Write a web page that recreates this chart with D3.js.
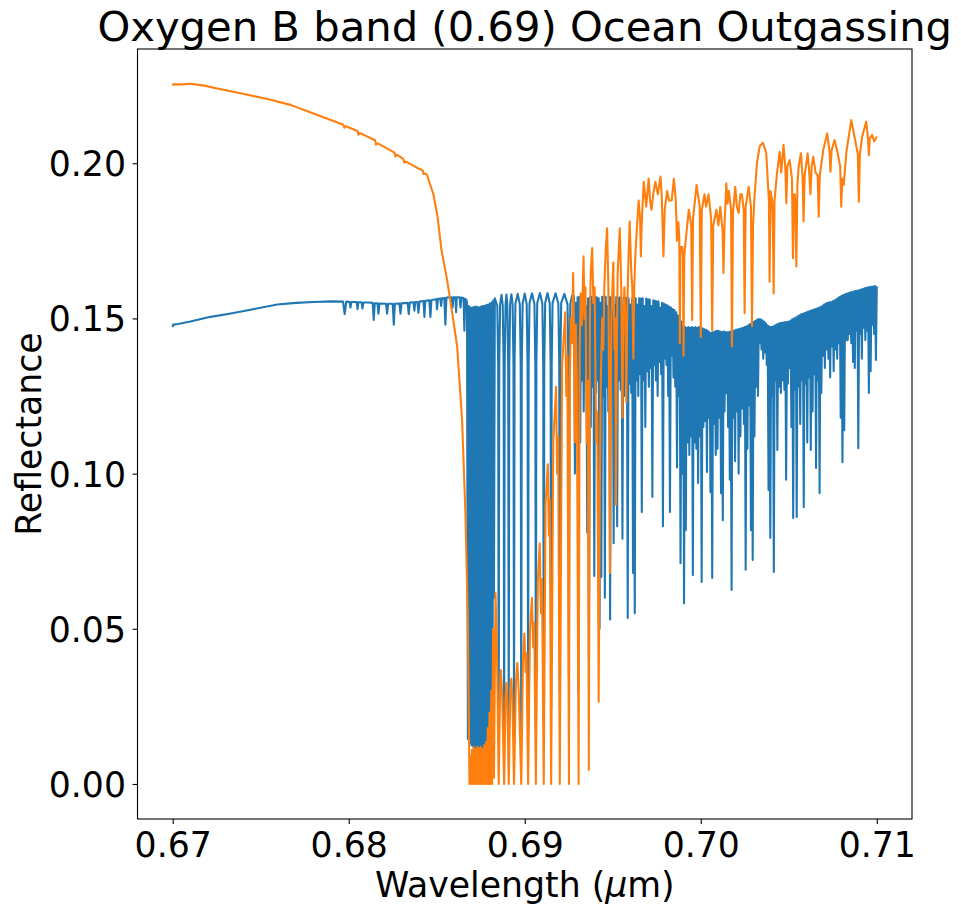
<!DOCTYPE html>
<html><head><meta charset="utf-8">
<script src="https://cdn.jsdelivr.net/npm/d3@7"></script>
<style>body{margin:0;background:#fff}text{font-family:"DejaVu Sans",sans-serif;fill:#000}</style>
</head><body><svg id="chart" width="961" height="916"></svg>
<script>
// ---------- DATA (wavelength in µm, reflectance) ----------
const titleText = "Oxygen B band (0.69) Ocean Outgassing";
const xTicks = [0.67, 0.68, 0.69, 0.70, 0.71];
const yTicks = [0.00, 0.05, 0.10, 0.15, 0.20];
const xLimits = [0.668, 0.712];
const yLimits = [-0.01128, 0.2368];

// Blue series
const blueContinuum = [[0.67000,.1472],[0.67003,.1480],[0.67030,.1482],[0.67100,.1490],[0.67215,.1505],[0.67330,.1516],[0.67442,.1528],[0.67595,.1545],[0.67700,.1550],[0.67800,.1553],[0.67900,.1555],[0.67968,.1554],[0.67977,.1514],[0.67986,.1554],[0.68005,.1553],[0.68010,.1535],[0.68015,.1553],[0.68045,.1553],[0.68050,.1530],[0.68055,.1552],[0.68073,.1552],[0.68078,.1532],[0.68083,.1551],[0.68110,.1551],[0.68136,.1550],[0.68142,.1495],[0.68148,.1549],[0.68163,.1549],[0.68169,.1515],[0.68175,.1548],[0.68212,.1547],[0.68218,.1515],[0.68224,.1547],[0.68250,.1547],[0.68256,.1480],[0.68262,.1547],[0.68288,.1548],[0.68294,.1515],[0.68300,.1549],[0.68335,.1550],[0.68341,.1514],[0.68347,.1551],[0.68368,.1552],[0.68373,.1525],[0.68378,.1553],[0.68390,.1553],[0.68396,.1518],[0.68402,.1554],[0.68425,.1556],[0.68430,.1505],[0.68435,.1557],[0.68458,.1558],[0.68464,.1505],[0.68470,.1559],[0.68497,.1562],[0.68502,.1530],[0.68507,.1563],[0.68520,.1564],[0.68525,.1540],[0.68530,.1565],[0.68543,.1566],[0.68549,.1480],[0.68555,.1567],[0.68585,.1568],[0.68590,.1535],[0.68595,.1568],[0.68606,.1568],[0.68610,.1520],[0.68614,.1568],[0.68630,.1568],[0.68635,.1535],[0.68640,.1567],[0.68652,.1566],[0.68657,.1460],[0.68662,.1563],[0.68668,.1560]];
const blueBandCore = [[0.68672,.1552],[0.68677,.0145],[0.68682,.1540],[0.68687,.0132],[0.68692,.1535],[0.68697,.0125],[0.68702,.1535],[0.68707,.0120],[0.68712,.1537],[0.68717,.0117],[0.68722,.1538],[0.68727,.0115],[0.68732,.1537],[0.68737,.0115],[0.68742,.1536],[0.68747,.0116],[0.68752,.1538],[0.68757,.0116],[0.68762,.1540],[0.68767,.0118],[0.68772,.1541],[0.68777,.0124],[0.68782,.1543],[0.68787,.0140],[0.68792,.1545],[0.68797,.0170],[0.68802,.1548],[0.68807,.0210],[0.68812,.1552],[0.68817,.0300],[0.68822,.1558],[0.68825,.0600],[0.68830,.1565]];
const blueBranchLines = [
[0.68844,.1540],[0.68849,.1350],[0.68852,.0140],[0.68855,.1350],[0.68860,.1545],[0.68868,.1576],
[0.68875,.1542],[0.68880,.1350],[0.68883,.0140],[0.68886,.1350],[0.68891,.1546],[0.68896,.1577],
[0.68901,.1543],[0.68906,.1350],[0.68909,.0140],[0.68912,.1350],[0.68917,.1547],[0.68924,.1578],
[0.68931,.1544],[0.68936,.1350],[0.68939,.0145],[0.68942,.1350],[0.68947,.1548],[0.68960,.1579],
[0.68972,.1545],[0.68977,.1350],[0.68980,.0150],[0.68983,.1350],[0.68988,.1548],[0.69000,.1580],
[0.69011,.1546],[0.69016,.1350],[0.69019,.0160],[0.69022,.1350],[0.69027,.1549],[0.69041,.1581],
[0.69055,.1547],[0.69060,.1350],[0.69063,.0180],[0.69066,.1350],[0.69071,.1550],[0.69086,.1582],
[0.69100,.1548],[0.69105,.1350],[0.69108,.0200],[0.69111,.1350],[0.69116,.1550],[0.69129,.1582],
[0.69142,.1548],[0.69147,.1350],[0.69150,.0250],[0.69153,.1350],[0.69158,.1550],[0.69175,.1581],
[0.69191,.1547],[0.69196,.1350],[0.69199,.0300],[0.69202,.1350],[0.69207,.1549],[0.69225,.1579],
[0.69243,.1546],[0.69248,.1350],[0.69251,.0350],[0.69254,.1350],[0.69259,.1548],[0.69270,.1575]];
const blueRedWing = [
[0.69280,.1572],[0.69285,.1000],[0.69290,.1550],[0.69295,.1280],[0.69300,.1568],[0.69305,.0300],[0.69310,.1570],[0.69315,.1100],[0.69320,.1545],[0.69325,.1300],
[0.69330,.1570],[0.69335,.1200],[0.69340,.1568],[0.69345,.1320],[0.69350,.1540],[0.69355,.0810],[0.69360,.1565],[0.69365,.0400],[0.69370,.1568],[0.69375,.1150],
[0.69380,.1570],[0.69385,.1280],[0.69390,.1548],[0.69395,.0670],[0.69400,.1570],[0.69405,.1260],[0.69410,.1568],[0.69415,.1300],[0.69420,.1565],[0.69425,.0500],
[0.69430,.1550],[0.69435,.0667],[0.69440,.1570],[0.69445,.1250],[0.69450,.1568],[0.69455,.0600],[0.69460,.1570],[0.69465,.1280],[0.69470,.1540],[0.69475,.1200],
[0.69480,.1570],[0.69485,.0530],[0.69490,.1568],[0.69495,.1300],[0.69500,.1570],[0.69505,.0776],[0.69510,.1545],[0.69515,.1240],[0.69520,.1569],[0.69525,.0830],
[0.69530,.1566],[0.69535,.1300],[0.69540,.1568],[0.69545,.1270],[0.69550,.1566],[0.69555,.0790],[0.69560,.1540],[0.69565,.1250],[0.69570,.1565],[0.69575,.1310],
[0.69580,.1566],[0.69585,.0535],[0.69590,.1565],[0.69595,.1290],[0.69600,.1545],[0.69605,.1260],[0.69610,.1564],[0.69615,.0680],[0.69620,.1565],[0.69625,.0550],
[0.69630,.1565],[0.69635,.1300],[0.69640,.1545],[0.69645,.1250],[0.69650,.1565],[0.69655,.1320],[0.69660,.1564],[0.69665,.0876],[0.69670,.1565],[0.69675,.1300],
[0.69680,.1540],[0.69685,.1150],[0.69690,.1564],[0.69695,.1330],[0.69700,.1562],[0.69705,.1280],[0.69710,.1561],[0.69715,.1340],[0.69720,.1540],[0.69725,.0925],
[0.69730,.1558],[0.69735,.1350],[0.69740,.1557],[0.69745,.1300],[0.69750,.1555],[0.69755,.1250],[0.69760,.1554],[0.69765,.1360],[0.69770,.1535],[0.69775,.1320],
[0.69780,.1550],[0.69785,.0830],[0.69790,.1548],[0.69795,.1370],[0.69800,.1545],[0.69805,.1350],[0.69810,.1542],[0.69815,.1250],[0.69820,.1538],[0.69825,.0876],
[0.69830,.1535],[0.69835,.1380],[0.69840,.1530],[0.69845,.1310],[0.69850,.1527],[0.69855,.1280],[0.69860,.1520],[0.69865,.1020],[0.69870,.1510],[0.69875,.1250],
[0.69880,.1500],[0.69885,.0711],[0.69890,.1490],[0.69895,.1000],[0.69900,.1475],[0.69905,.0582],[0.69910,.1472],[0.69915,.0818],[0.69920,.1470],[0.69925,.1100],
[0.69930,.1472],[0.69935,.1060],[0.69940,.1470],[0.69945,.1120],[0.69950,.1472],[0.69955,.0673],[0.69960,.1470],[0.69965,.1100],[0.69970,.1472],[0.69975,.1080],
[0.69980,.1470],[0.69985,.0970],[0.69990,.1472],[0.69995,.1120],[0.70000,.1470],[0.70005,.0651],[0.70010,.1468],[0.70015,.1150],[0.70020,.1465],[0.70025,.1170],
[0.70030,.1463],[0.70035,.1005],[0.70040,.1460],[0.70045,.1180],[0.70050,.1455],[0.70055,.0940],[0.70060,.1453],[0.70065,.0664],[0.70070,.1455],[0.70075,.1160],
[0.70080,.1458],[0.70085,.1060],[0.70090,.1460],[0.70095,.1080],[0.70100,.1460],[0.70105,.1180],[0.70110,.1458],[0.70115,.0937],[0.70120,.1456],[0.70125,.0850],
[0.70130,.1458],[0.70135,.1200],[0.70140,.1456],[0.70145,.1260],[0.70150,.1455],[0.70155,.1150],[0.70160,.1456],[0.70165,.0980],[0.70170,.1458],[0.70175,.0625],
[0.70180,.1460],[0.70185,.1180],[0.70190,.1461],[0.70195,.1040],[0.70200,.1463],[0.70205,.1200],[0.70210,.1465],[0.70215,.1000],[0.70220,.1466],[0.70225,.1120],
[0.70230,.1468],[0.70235,.1210],[0.70240,.1470],[0.70245,.1160],[0.70250,.1472],[0.70255,.0690],[0.70260,.1475],[0.70265,.1080],[0.70270,.1478],[0.70275,.1220],
[0.70280,.1482],[0.70285,.0818],[0.70290,.1485],[0.70295,.0722],[0.70300,.1488],[0.70305,.1120],[0.70310,.1492],[0.70315,.1280],[0.70320,.1496],[0.70325,.1250],
[0.70330,.1498],[0.70335,.1420],[0.70340,.1497],[0.70345,.1400],[0.70350,.1494],[0.70355,.1370],[0.70360,.1490],[0.70365,.1390],[0.70370,.1484],[0.70375,.1350],
[0.70380,.1478],[0.70385,.0947],[0.70390,.1474],[0.70395,.0793],[0.70400,.1472],[0.70405,.1250],[0.70410,.1474],[0.70415,.0683],[0.70420,.1477],[0.70425,.1300],
[0.70430,.1480],[0.70435,.1076],[0.70440,.1483],[0.70445,.1280],[0.70450,.1485],[0.70455,.1260],[0.70460,.1486],[0.70465,.1300],[0.70470,.1487],[0.70475,.1270],
[0.70480,.1488],[0.70485,.0980],[0.70490,.1488],[0.70495,.1290],[0.70500,.1490],[0.70505,.1340],[0.70510,.1493],[0.70515,.1150],[0.70520,.1497],[0.70525,.0857],
[0.70530,.1500],[0.70535,.1270],[0.70540,.1503],[0.70545,.0860],[0.70550,.1507],[0.70555,.1280],[0.70560,.1510],[0.70565,.1160],[0.70570,.1513],[0.70575,.1300],
[0.70580,.1515],[0.70585,.0892],[0.70590,.1517],[0.70595,.1290],[0.70600,.1520],[0.70605,.1100],[0.70610,.1522],[0.70615,.1310],[0.70620,.1524],[0.70625,.1076],
[0.70630,.1526],[0.70635,.1200],[0.70640,.1528],[0.70645,.1320],[0.70650,.1530],[0.70655,.1018],[0.70660,.1532],[0.70665,.1300],[0.70670,.1534],[0.70675,.0937],
[0.70680,.1537],[0.70685,.1260],[0.70690,.1540],[0.70695,.1380],[0.70700,.1545],[0.70705,.1340],[0.70710,.1548],[0.70715,.1400],[0.70720,.1550],[0.70725,.1370],
[0.70730,.1552],[0.70735,.1310],[0.70740,.1553],[0.70745,.1410],[0.70750,.1555],[0.70755,.1330],[0.70760,.1558],[0.70765,.1400],[0.70770,.1562],[0.70775,.1370],
[0.70780,.1566],[0.70785,.1420],[0.70790,.1570],[0.70795,.1180],[0.70800,.1573],[0.70805,.1037],[0.70810,.1575],[0.70815,.1140],[0.70820,.1578],[0.70825,.1430],
[0.70830,.1580],[0.70835,.1430],[0.70840,.1582],[0.70845,.1450],[0.70850,.1584],[0.70855,.1420],[0.70860,.1585],[0.70865,.1360],[0.70870,.1587],[0.70875,.1340],
[0.70880,.1588],[0.70885,.1460],[0.70890,.1590],[0.70895,.1082],[0.70900,.1591],[0.70905,.1450],[0.70910,.1593],[0.70915,.1370],[0.70920,.1595],[0.70925,.1470],
[0.70930,.1597],[0.70935,.1430],[0.70940,.1599],[0.70945,.1460],[0.70950,.1600],[0.70955,.1260],[0.70960,.1601],[0.70965,.1330],[0.70970,.1602],[0.70975,.1480],
[0.70980,.1603],[0.70985,.1450],[0.70990,.1604],[0.70995,.1366],[0.71000,.1604]];

// Orange series
const orangeSlope = [[0.67000,.2250],[0.67003,.2254],[0.67050,.2254],[0.67101,.2256],[0.67180,.2250],[0.67252,.2241],[0.67400,.2224],[0.67550,.2205],[0.67669,.2188],[0.67800,.2160],[0.67970,.2124],[0.67975,.2114],[0.67985,.2119],[0.68050,.2104],[0.68055,.2092],[0.68065,.2097],[0.68150,.2074],[0.68155,.2060],[0.68165,.2064],[0.68260,.2034],[0.68265,.2022],[0.68275,.2027],[0.68310,.2014],[0.68315,.2002],[0.68325,.2005],[0.68400,.1982],[0.68420,.1977],[0.68425,.1965],[0.68435,.1967],[0.68445,.1962],[0.68460,.1935],[0.68481,.1900],[0.68504,.1830],[0.68527,.1720],[0.68559,.1624],[0.68590,.1510],[0.68616,.1409],[0.68644,.1173],[0.68663,.0872],[0.68676,.0551],[0.68684,.0120]];
const orangeCore = [[0.68686,.0000],[0.68690,.0090],[0.68695,.0000],[0.68700,.0110],[0.68705,.0000],[0.68710,.0120],[0.68715,.0000],[0.68720,.0110],[0.68725,.0000],[0.68730,.0120],[0.68735,.0000],[0.68740,.0115],[0.68745,.0000],[0.68750,.0120],[0.68755,.0000],[0.68760,.0110],[0.68765,.0000],[0.68770,.0125],[0.68775,.0000],[0.68780,.0135],[0.68785,.0000],[0.68790,.0180],[0.68795,.0000],[0.68800,.0230],[0.68805,.0000],[0.68810,.0300],[0.68815,.0000],[0.68820,.0500],[0.68825,.0020]];
const orangeTeeth = [
[0.68834,.0615],[0.68843,.0400],[0.68852,.0000],
[0.68860,.0300],[0.68865,.0367],[0.68872,.0280],[0.68883,.0000],
[0.68891,.0280],[0.68896,.0325],[0.68902,.0250],[0.68909,.0000],
[0.68918,.0300],[0.68924,.0340],[0.68930,.0270],[0.68939,.0000],
[0.68950,.0330],[0.68958,.0390],[0.68966,.0300],[0.68980,.0000],
[0.68990,.0400],[0.68998,.0485],[0.69005,.0360],[0.69010,.0420],[0.69019,.0000],
[0.69030,.0500],[0.69041,.0600],[0.69048,.0440],[0.69054,.0520],[0.69063,.0000],
[0.69074,.0650],[0.69085,.0775],[0.69092,.0550],[0.69098,.0660],[0.69108,.0000],
[0.69118,.0900],[0.69131,.1030],[0.69137,.0800],[0.69142,.0920],[0.69150,.0000],
[0.69162,.1100],[0.69178,.1280],[0.69184,.1000],[0.69190,.1120],[0.69199,.0000],
[0.69212,.1350],[0.69230,.1520],[0.69236,.1250],[0.69242,.1380],[0.69251,.0000],
[0.69256,.1300],[0.69262,.1500],[0.69268,.1420],[0.69275,.1646],[0.69280,.1450],[0.69285,.1100],[0.69290,.1480],[0.69296,.1300],[0.69306,.0000],
[0.69312,.1400],[0.69318,.1580],[0.69325,.1480],[0.69334,.1700],[0.69340,.1500],[0.69345,.1600],[0.69352,.1100],[0.69358,.1300],[0.69364,.0045],
[0.69370,.1500],[0.69375,.1650],[0.69383,.1727],[0.69390,.1550],[0.69397,.1600],[0.69402,.1300],[0.69406,.1100],[0.69412,.1200],[0.69420,.0265],
[0.69426,.0900],[0.69432,.1300],[0.69440,.1500],[0.69446,.1400],[0.69452,.1600],[0.69460,.1720],[0.69468,.1790],[0.69475,.1600],[0.69480,.1200],[0.69484,.0680],
[0.69488,.1200],[0.69492,.1500],[0.69503,.1680],[0.69510,.1400],[0.69514,.1500],[0.69518,.0900],[0.69523,.1400],[0.69528,.1650],[0.69540,.1790],[0.69548,.1600],[0.69555,.1180],
[0.69560,.1500],[0.69566,.1600],[0.69572,.1500],[0.69577,.1230],[0.69582,.1500],[0.69587,.1650],[0.69596,.1812],[0.69605,.1650],[0.69611,.1600],[0.69617,.1370],[0.69622,.1600],[0.69628,.1700],[0.69638,.1800],[0.69647,.1880],[0.69655,.1820],[0.69660,.1700],[0.69664,.1800],[0.69668,.1850],[0.69676,.1940]];
const orangeRedWing = [[0.69690,.1860],[0.69704,.1951],[0.69712,.1880],[0.69720,.1850],[0.69730,.1900],[0.69742,.1940],[0.69756,.1900],[0.69771,.1957],[0.69778,.1900],[0.69788,.1700],[0.69795,.1850],[0.69809,.1910],[0.69820,.1880],[0.69835,.1880],[0.69847,.1950],[0.69858,.1880],[0.69865,.1750],[0.69873,.1810],[0.69878,.1760],[0.69881,.1420],[0.69885,.1730],[0.69895,.1730],[0.69899,.1700],[0.69902,.1380],[0.69906,.1700],[0.69916,.1760],[0.69932,.1850],[0.69946,.1800],[0.69951,.1495],[0.69956,.1820],[0.69976,.1930],[0.69994,.1860],[0.70000,.1440],[0.70006,.1850],[0.70021,.1900],[0.70030,.1860],[0.70044,.1900],[0.70059,.1820],[0.70065,.1460],[0.70071,.1800],[0.70089,.1850],[0.70100,.1800],[0.70111,.1860],[0.70124,.1780],[0.70129,.1646],[0.70135,.1800],[0.70145,.1935],[0.70152,.1870],[0.70160,.1910],[0.70172,.1850],[0.70177,.1410],[0.70183,.1840],[0.70196,.1924],[0.70205,.1860],[0.70215,.1840],[0.70225,.1900],[0.70234,.1900],[0.70244,.1850],[0.70249,.1517],[0.70255,.1860],[0.70272,.1924],[0.70285,.1860],[0.70291,.1475],[0.70297,.1800],[0.70304,.1880],[0.70319,.2000],[0.70335,.2055],[0.70353,.2066],[0.70365,.2045],[0.70372,.2033],[0.70380,.1950],[0.70387,.1880],[0.70391,.1618],[0.70396,.1910],[0.70406,.1880],[0.70410,.1780],[0.70414,.1580],[0.70419,.1880],[0.70433,.1967],[0.70448,.2037],[0.70457,.1970],[0.70470,.2059],[0.70480,.1990],[0.70486,.1870],[0.70492,.1990],[0.70505,.2010],[0.70518,.1950],[0.70524,.1694],[0.70530,.1900],[0.70534,.1900],[0.70538,.1850],[0.70543,.1667],[0.70549,.1930],[0.70556,.1989],[0.70569,.2032],[0.70578,.1960],[0.70584,.1812],[0.70590,.1960],[0.70607,.2032],[0.70615,.1980],[0.70623,.1900],[0.70630,.1990],[0.70639,.2021],[0.70652,.1970],[0.70664,.1960],[0.70670,.1828],[0.70676,.1960],[0.70696,.2043],[0.70718,.2096],[0.70731,.2040],[0.70737,.1973],[0.70743,.2040],[0.70760,.2075],[0.70778,.2032],[0.70792,.1990],[0.70798,.1860],[0.70804,.1950],[0.70812,.1930],[0.70828,.2040],[0.70855,.2139],[0.70873,.2086],[0.70892,.2030],[0.70898,.1876],[0.70904,.2030],[0.70917,.2086],[0.70940,.2134],[0.70950,.2080],[0.70955,.2026],[0.70960,.2080],[0.70974,.2091],[0.70985,.2070],[0.71000,.2086]];

const series = [
  {name: "blue", color: "#1f77b4", data: [].concat(blueContinuum, blueBandCore, blueBranchLines, blueRedWing)},
  {name: "orange", color: "#ff7f0e", data: [].concat(orangeSlope, orangeCore, orangeTeeth, orangeRedWing)}
];

// ---------- DRAWING ----------
const svg = d3.select("#chart");
const m = {l: 137.5, r: 912, t: 49, b: 819};
const x = d3.scaleLinear().domain(xLimits).range([m.l, m.r]);
const y = d3.scaleLinear().domain(yLimits).range([m.b, m.t]);
const tickFs = 34.7, labelFs = 34.7, titleFs = 41.7, tickLen = 4.9;

svg.append("rect").attr("width", 961).attr("height", 916).attr("fill", "#fff");
svg.append("defs").append("clipPath").attr("id", "plotclip")
  .append("rect").attr("x", m.l).attr("y", m.t).attr("width", m.r - m.l).attr("height", m.b - m.t);

const line = d3.line().x(d => x(d[0])).y(d => y(d[1]));
const g = svg.append("g").attr("clip-path", "url(#plotclip)");
series.forEach(s => {
  g.append("path").datum(s.data).attr("d", line)
    .attr("fill", "none").attr("stroke", s.color).attr("stroke-width", 2.08)
    .attr("stroke-linejoin", "round").attr("stroke-linecap", "butt");
});

// axes
const xAxis = svg.append("g").attr("transform", `translate(0,${m.b})`)
  .call(d3.axisBottom(x).tickValues(xTicks).tickFormat(d3.format(".2f")).tickSize(tickLen).tickPadding(8.5));
const yAxis = svg.append("g").attr("transform", `translate(${m.l},0)`)
  .call(d3.axisLeft(y).tickValues(yTicks).tickFormat(d3.format(".2f")).tickSize(tickLen).tickPadding(6.6));
[xAxis, yAxis].forEach(a => {
  a.select(".domain").remove();
  a.selectAll(".tick line").attr("stroke", "#000").attr("stroke-width", 1.1);
  a.selectAll(".tick text").attr("font-size", tickFs).attr("font-family", "DejaVu Sans").attr("fill", "#000");
});
yAxis.selectAll(".tick text").attr("dy", "0.36em");

// frame
svg.append("rect").attr("x", m.l).attr("y", m.t).attr("width", m.r - m.l).attr("height", m.b - m.t)
  .attr("fill", "none").attr("stroke", "#000").attr("stroke-width", 1.1);

// title and labels
const cx = (m.l + m.r) / 2;
svg.append("text").attr("x", cx).attr("y", 41).attr("text-anchor", "middle")
  .attr("font-size", titleFs).text(titleText);
const xl = svg.append("text").attr("x", cx).attr("y", 897).attr("text-anchor", "middle").attr("font-size", labelFs);
xl.append("tspan").text("Wavelength (");
xl.append("tspan").attr("font-style", "italic").text("μ");
xl.append("tspan").text("m)");
svg.append("text").attr("transform", `translate(41,${(m.t + m.b) / 2}) rotate(-90)`)
  .attr("text-anchor", "middle").attr("font-size", labelFs).text("Reflectance");
</script></body></html>
